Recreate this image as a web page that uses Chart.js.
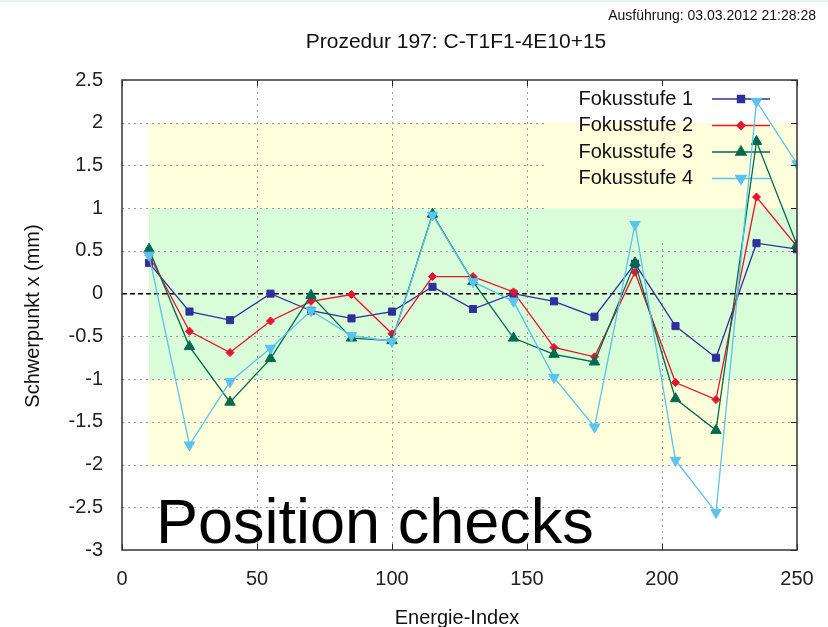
<!DOCTYPE html>
<html>
<head>
<meta charset="utf-8">
<script src="https://cdn.jsdelivr.net/npm/chart.js@4"></script>
<style>
  html,body{margin:0;padding:0;background:#fff;}
  #wrap{width:828px;height:627px;position:relative;}
</style>
</head>
<body>
<div id="wrap"><canvas id="chart" width="828" height="627"></canvas></div>
<script>
// --- data ---
const energieIndex = [10,25,40,55,70,85,100,115,130,145,160,175,190,205,220,235,250];
const fokus1 = [0.36,-0.21,-0.31,0.00,-0.20,-0.29,-0.21,0.08,-0.18,0.00,-0.09,-0.27,0.35,-0.38,-0.75,0.59,0.52];
const fokus2 = [0.45,-0.44,-0.69,-0.32,-0.09,-0.01,-0.47,0.20,0.20,0.02,-0.63,-0.74,0.25,-1.04,-1.24,1.13,0.55];
const fokus3 = [0.52,-0.62,-1.27,-0.76,-0.02,-0.52,-0.55,0.93,0.14,-0.52,-0.71,-0.80,0.36,-1.23,-1.60,1.78,0.57];
const fokus4 = [0.45,-1.77,-1.03,-0.64,-0.20,-0.49,-0.56,0.92,0.14,-0.09,-0.98,-1.56,0.81,-1.95,-2.56,2.25,1.52];
const seriesNames = ['Fokusstufe 1','Fokusstufe 2','Fokusstufe 3','Fokusstufe 4'];
const yTicks = [2.5,2,1.5,1,0.5,0,-0.5,-1,-1.5,-2,-2.5,-3];
const xTicks = [0,50,100,150,200,250];
const yellowBand = [-2, 2];   // Toleranzbereich
const greenBand = [-1, 1];
const bandStart = 10, bandEnd = 250;

const colors = ['#30309a','#e8142e','#006a4e','#5cc2ee'];
const styles = [
  {pointStyle:'rect', radius:5, rotation:0},
  {pointStyle:'rectRot', radius:4, rotation:0},
  {pointStyle:'triangle', radius:6, rotation:0},
  {pointStyle:'triangle', radius:6, rotation:180}
];
const FONT = '"Liberation Sans", Arial, sans-serif';

const toXY = arr => arr.map((v,i)=>({x:energieIndex[i], y:v}));
const datasets = [fokus1,fokus2,fokus3,fokus4].map((arr,i)=>({
  label: seriesNames[i],
  data: toXY(arr),
  borderColor: colors[i],
  backgroundColor: colors[i],
  pointBackgroundColor: colors[i],
  pointBorderColor: colors[i],
  borderWidth: 1.3,
  pointBorderWidth: 1,
  pointStyle: styles[i].pointStyle,
  pointRadius: styles[i].radius,
  pointRotation: styles[i].rotation,
  tension: 0,
  fill: false,
  order: 3 - i
}));

// key box (gnuplot hides grid under it)
const key = {left:545, bottom:243, textRight:693, lineL:712, lineR:770, row0:99, rowH:26.5};

const gnuplotLook = {
  id:'gnuplotLook',
  beforeDraw(chart){
    const {ctx} = chart;
    ctx.save();
    ctx.fillStyle = '#fff';
    ctx.fillRect(0,0,chart.width,chart.height);
    ctx.fillStyle = '#e5eef1';
    ctx.fillRect(0,0,chart.width,2);
    ctx.restore();
  },
  beforeDatasetsDraw(chart){
    const {ctx, chartArea:a, scales:{x,y}} = chart;
    ctx.save();
    // bands
    const bx0 = x.getPixelForValue(bandStart), bx1 = x.getPixelForValue(bandEnd);
    ctx.fillStyle = '#ffffdc';
    ctx.fillRect(bx0, y.getPixelForValue(yellowBand[1]), bx1-bx0, y.getPixelForValue(yellowBand[0])-y.getPixelForValue(yellowBand[1]));
    ctx.fillStyle = '#d9fcd9';
    ctx.fillRect(bx0, y.getPixelForValue(greenBand[1]), bx1-bx0, y.getPixelForValue(greenBand[0])-y.getPixelForValue(greenBand[1]));

    // dotted grid
    ctx.strokeStyle = '#9a9a9a';
    ctx.lineWidth = 1;
    ctx.setLineDash([2,4]);
    yTicks.forEach(v=>{
      if (v===0 || v===2.5 || v===-3) return;
      const py = Math.round(y.getPixelForValue(v))+0.5;
      const xr = py < key.bottom ? key.left : a.right;
      ctx.beginPath(); ctx.moveTo(a.left, py); ctx.lineTo(xr, py); ctx.stroke();
    });
    xTicks.forEach(v=>{
      if (v===0 || v===250) return;
      const px = Math.round(x.getPixelForValue(v))+0.5;
      const yt = px > key.left ? key.bottom : a.top;
      ctx.beginPath(); ctx.moveTo(px, yt); ctx.lineTo(px, a.bottom); ctx.stroke();
    });
    // zero line
    ctx.strokeStyle = '#000';
    ctx.lineWidth = 1.5;
    ctx.setLineDash([5,3]);
    const y0 = y.getPixelForValue(0);
    ctx.beginPath(); ctx.moveTo(a.left, y0); ctx.lineTo(a.right, y0); ctx.stroke();
    ctx.setLineDash([]);

    // key
    ctx.font = '20px ' + FONT;
    ctx.textAlign = 'right';
    ctx.textBaseline = 'middle';
    seriesNames.forEach((name,i)=>{
      const ry = key.row0 + i*key.rowH;
      ctx.fillStyle = '#111';
      ctx.fillText(name, key.textRight, ry);
      ctx.strokeStyle = colors[i];
      ctx.lineWidth = 1.3;
      ctx.beginPath(); ctx.moveTo(key.lineL, ry); ctx.lineTo(key.lineR, ry); ctx.stroke();
      ctx.fillStyle = colors[i];
      Chart.helpers.drawPoint(ctx, {pointStyle:styles[i].pointStyle, radius:styles[i].radius, rotation:styles[i].rotation, borderWidth:1}, (key.lineL+key.lineR)/2, ry);
    });
    ctx.restore();
  },
  afterDraw(chart){
    const {ctx, chartArea:a, scales:{x,y}} = chart;
    ctx.save();
    // border ticks
    ctx.strokeStyle = '#222';
    ctx.lineWidth = 1;
    yTicks.forEach(v=>{
      const py = Math.round(y.getPixelForValue(v))+0.5;
      ctx.beginPath(); ctx.moveTo(a.right-6, py); ctx.lineTo(a.right, py); ctx.stroke();
    });
    xTicks.forEach(v=>{
      const px = Math.round(x.getPixelForValue(v))+0.5;
      ctx.beginPath(); ctx.moveTo(px, a.bottom); ctx.lineTo(px, a.bottom-6); ctx.stroke();
      ctx.beginPath(); ctx.moveTo(px, a.top); ctx.lineTo(px, a.top+6); ctx.stroke();
    });
    // border
    ctx.strokeStyle = '#333';
    ctx.lineWidth = 1.5;
    ctx.strokeRect(a.left, a.top, a.right-a.left, a.bottom-a.top);

    // texts
    ctx.fillStyle = '#111';
    ctx.textBaseline = 'alphabetic';
    ctx.textAlign = 'center';
    ctx.font = '21px ' + FONT;
    ctx.fillText('Prozedur 197: C-T1F1-4E10+15', 456, 48);
    ctx.font = '20px ' + FONT;
    ctx.fillText('Energie-Index', 457, 624);
    ctx.save();
    ctx.translate(39, 316);
    ctx.rotate(-Math.PI/2);
    ctx.fillText('Schwerpunkt x (mm)', 0, 0);
    ctx.restore();
    ctx.textAlign = 'right';
    ctx.font = '14px "Liberation Sans Narrow", "Liberation Sans", Arial, sans-serif';
    ctx.fillText('Ausführung: 03.03.2012 21:28:28', 816, 20);
    ctx.textAlign = 'left';
    ctx.fillStyle = '#000';
    ctx.font = '63px ' + FONT;
    ctx.fillText('Position checks', 156, 543);
    ctx.restore();
  }
};

new Chart(document.getElementById('chart'), {
  type:'line',
  data:{datasets},
  options:{
    responsive:false, animation:false, maintainAspectRatio:false,
    layout:{padding:{left:0, top:80, right:31, bottom:0}},
    plugins:{legend:{display:false}, tooltip:{enabled:false}},
    scales:{
      x:{
        type:'linear', min:0, max:250,
        afterBuildTicks: s => { s.ticks = xTicks.map(v=>({value:v})); },
        afterFit: s => { s.height = 77; s.paddingLeft = 0; s.paddingRight = 0; },
        grid:{display:false, drawTicks:false},
        border:{display:false},
        ticks:{color:'#222', padding:17, font:{size:20, family:FONT}, maxRotation:0, callback:v=>String(v)}
      },
      y:{
        type:'linear', min:-3, max:2.5,
        afterBuildTicks: s => { s.ticks = yTicks.map(v=>({value:v})); },
        afterFit: s => { s.width = 122; s.paddingTop = 0; s.paddingBottom = 0; },
        grid:{display:false, drawTicks:false},
        border:{display:false},
        ticks:{color:'#222', padding:19, font:{size:20, family:FONT}, callback:v=>String(v)}
      }
    }
  },
  plugins:[gnuplotLook]
});
</script>
</body>
</html>
